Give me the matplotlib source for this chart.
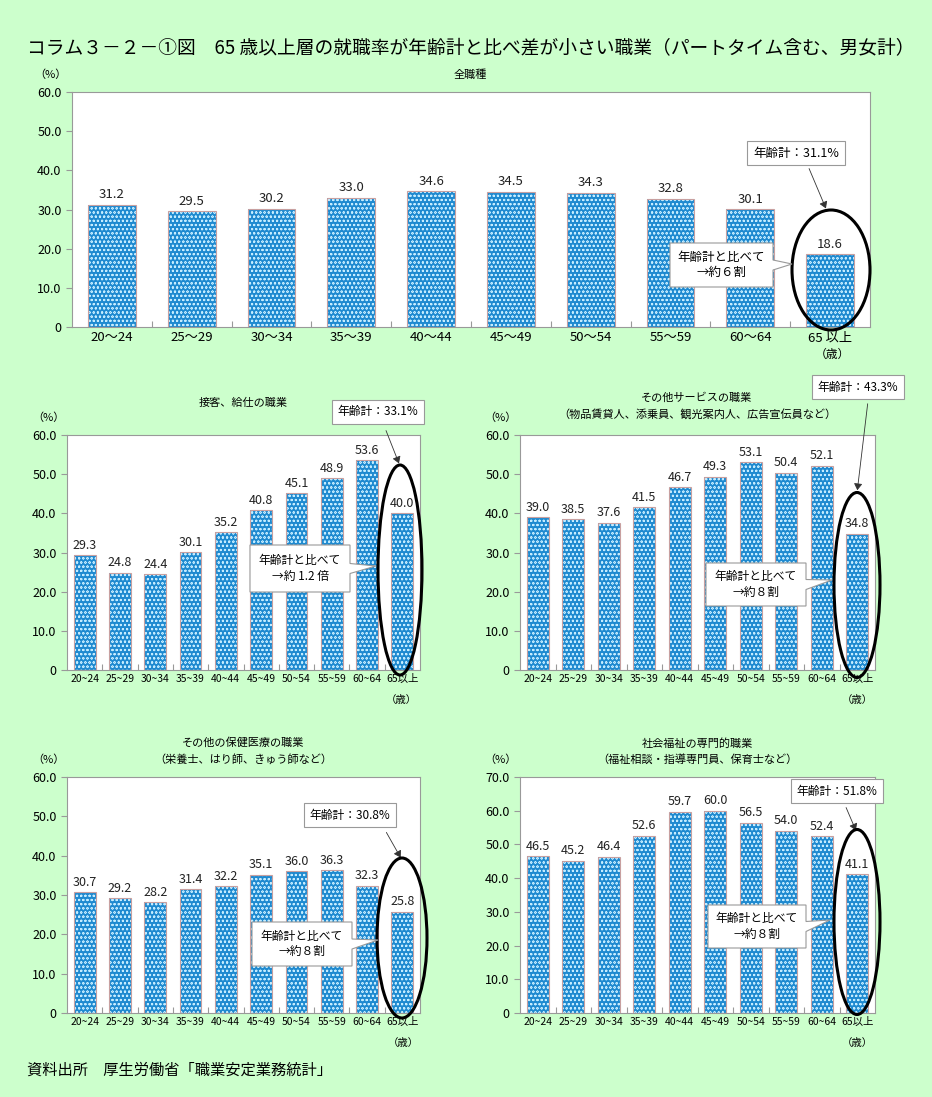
import matplotlib
matplotlib.use("Agg")
import matplotlib.pyplot as plt
from matplotlib.patches import Ellipse, Polygon
import numpy as np

plt.rcParams["font.family"] = ["Noto Sans CJK JP", "DejaVu Sans"]
plt.rcParams["hatch.linewidth"] = 0.45

W, H = 932, 1097

# data
ages_top = ["20～24", "25～29", "30～34", "35～39", "40～44", "45～49",
            "50～54", "55～59", "60～64", "65 以上"]
ages_small = ["20~24", "25~29", "30~34", "35~39", "40~44", "45~49",
              "50~54", "55~59", "60~64", "65以上"]
all_jobs = [31.2, 29.5, 30.2, 33.0, 34.6, 34.5, 34.3, 32.8, 30.1, 18.6]
service = [29.3, 24.8, 24.4, 30.1, 35.2, 40.8, 45.1, 48.9, 53.6, 40.0]
other_service = [39.0, 38.5, 37.6, 41.5, 46.7, 49.3, 53.1, 50.4, 52.1, 34.8]
health = [30.7, 29.2, 28.2, 31.4, 32.2, 35.1, 36.0, 36.3, 32.3, 25.8]
welfare = [46.5, 45.2, 46.4, 52.6, 59.7, 60.0, 56.5, 54.0, 52.4, 41.1]
totals = ["31.1", "33.1", "43.3", "30.8", "51.8"]
ratios = ["約６割", "約 1.2 倍", "約８割", "約８割", "約８割"]

BG = "#ccffcc"
BAR = "#1f8ad0"
EDGE = "#999999"


def fxy(x, y):
    return x / W, 1 - y / H


def make_axes(fig, left, top, right, bottom):
    return fig.add_axes([left / W, 1 - bottom / H, (right - left) / W, (bottom - top) / H])


def draw_bars(ax, values, labels, ymax, val_size, tick_size, ytick_size, width):
    x = np.arange(len(values))
    ax.bar(x, values, width=width, color=BAR, edgecolor="#c4ecff", hatch="oooo",
           linewidth=0, zorder=2)
    ax.bar(x, values, width=width, fill=False, edgecolor="#c8a0a0", linewidth=0.8, zorder=3)
    for xi, v in zip(x, values):
        ax.text(xi, v + ymax * 0.015, f"{v:.1f}", ha="center", va="bottom",
                fontsize=val_size, color="#222222", zorder=4)
    ax.set_xlim(-0.5, len(values) - 0.5)
    ax.set_ylim(0, ymax)
    yt = np.arange(0, ymax + 0.1, 10)
    ax.set_yticks(yt)
    ax.set_yticklabels(["0"] + [f"{t:.1f}" for t in yt[1:]])
    ax.set_xticks(np.arange(0.5, len(values) - 1, 1))
    ax.set_xticklabels([])
    ax.set_xticks(x, minor=True)
    ax.set_xticklabels(labels, minor=True)
    ax.tick_params(axis="x", which="major", direction="in", length=4, color=EDGE)
    ax.tick_params(axis="x", which="minor", length=0, labelsize=tick_size, pad=3)
    ax.tick_params(axis="y", direction="out", length=4, color=EDGE, labelsize=ytick_size)
    for s in ax.spines.values():
        s.set_color(EDGE)
        s.set_linewidth(0.8)
    ax.set_facecolor("white")


def total_box(fig, cx, cy, text, ax_to, size=8.5):
    # label box with arrow to top of the ellipse
    fig.text(*fxy(cx, cy), text, ha="center", va="center", fontsize=size,
             bbox=dict(boxstyle="square,pad=0.45", fc="white", ec=EDGE, lw=0.8))
    fig.add_artist(matplotlib.patches.FancyArrowPatch(
        fxy(*ax_to[0]), fxy(*ax_to[1]), transform=fig.transFigure,
        arrowstyle="-|>,head_length=4,head_width=2.5", color="#333333", lw=0.6))


def ring(fig, cx, cy, w, h):
    fig.add_artist(Ellipse(fxy(cx, cy), w / W, h / H, transform=fig.transFigure,
                           fill=False, ec="black", lw=2.2, zorder=10))


def callout(fig, x0, y0, x1, y1, tip, text, size=8.5):
    ym = (y0 + y1) / 2
    pts = [(x0, y0), (x1, y0), (x1, ym - 5), tip, (x1, ym + 5), (x1, y1), (x0, y1)]
    fig.add_artist(Polygon([fxy(*p) for p in pts], closed=True, transform=fig.transFigure,
                           fc="white", ec=EDGE, lw=0.8, zorder=11))
    fig.text(*fxy((x0 + x1) / 2, ym), text, ha="center", va="center", fontsize=size,
             linespacing=1.25, zorder=12)


fig = plt.figure(figsize=(W / 100, H / 100), dpi=100)
fig.patch.set_facecolor(BG)

fig.text(*fxy(27, 48), "コラム３－２－①図　65 歳以上層の就職率が年齢計と比べ差が小さい職業（パートタイム含む、男女計）",
         ha="left", va="center", fontsize=13.5)

# top panel
ax = make_axes(fig, 72, 92, 870, 327)
draw_bars(ax, all_jobs, ages_top, 60, 9.5, 9.5, 9, 0.6)
fig.text(*fxy(470, 75), "全職種", ha="center", va="center", fontsize=8)
fig.text(*fxy(50, 75), "（%）", ha="center", va="center", fontsize=8)
fig.text(*fxy(832, 354), "（歳）", ha="center", va="center", fontsize=8.5)
total_box(fig, 796, 153, f"年齢計：{totals[0]}%", ((808, 166), (827, 211)), size=9)
ring(fig, 831, 270, 78, 120)
callout(fig, 670, 243, 773, 287, (792, 264), f"年齢計と比べて\n→{ratios[0]}", size=9)

# middle left
ax = make_axes(fig, 67, 435, 420, 670)
draw_bars(ax, service, ages_small, 60, 9, 7.5, 9, 0.62)
fig.text(*fxy(243, 403), "接客、給仕の職業", ha="center", va="center", fontsize=8)
fig.text(*fxy(48, 418), "（%）", ha="center", va="center", fontsize=8)
fig.text(*fxy(401, 700), "（歳）", ha="center", va="center", fontsize=7.5)
total_box(fig, 378, 412, f"年齢計：{totals[1]}%", ((385, 428), (400, 466)))
ring(fig, 400, 570, 44, 210)
callout(fig, 250, 545, 350, 592, (376, 566), f"年齢計と比べて\n→{ratios[1]}")

# middle right
ax = make_axes(fig, 520, 435, 875, 670)
draw_bars(ax, other_service, ages_small, 60, 9, 7.5, 9, 0.62)
fig.text(*fxy(697, 398), "その他サービスの職業", ha="center", va="center", fontsize=8)
fig.text(*fxy(697, 414), "（物品賃貸人、添乗員、観光案内人、広告宣伝員など）",
         ha="center", va="center", fontsize=8)
fig.text(*fxy(500, 418), "（%）", ha="center", va="center", fontsize=8)
fig.text(*fxy(857, 700), "（歳）", ha="center", va="center", fontsize=7.5)
total_box(fig, 858, 387, f"年齢計：{totals[2]}%", ((868, 401), (857, 493)))
ring(fig, 857, 585, 46, 185)
callout(fig, 706, 563, 806, 606, (832, 580), f"年齢計と比べて\n→{ratios[2]}")

# bottom left
ax = make_axes(fig, 67, 777, 420, 1013)
draw_bars(ax, health, ages_small, 60, 9, 7.5, 9, 0.62)
fig.text(*fxy(243, 743), "その他の保健医療の職業", ha="center", va="center", fontsize=8)
fig.text(*fxy(243, 759), "（栄養士、はり師、きゅう師など）", ha="center", va="center", fontsize=8)
fig.text(*fxy(48, 760), "（%）", ha="center", va="center", fontsize=8)
fig.text(*fxy(403, 1043), "（歳）", ha="center", va="center", fontsize=7.5)
total_box(fig, 350, 815, f"年齢計：{totals[3]}%", ((385, 830), (402, 860)))
ring(fig, 402, 938, 50, 160)
callout(fig, 252, 922, 352, 966, (378, 940), f"年齢計と比べて\n→{ratios[3]}")

# bottom right
ax = make_axes(fig, 520, 777, 875, 1013)
draw_bars(ax, welfare, ages_small, 70, 9, 7.5, 9, 0.62)
fig.text(*fxy(697, 743), "社会福祉の専門的職業", ha="center", va="center", fontsize=8)
fig.text(*fxy(697, 759), "（福祉相談・指導専門員、保育士など）", ha="center", va="center", fontsize=8)
fig.text(*fxy(500, 760), "（%）", ha="center", va="center", fontsize=8)
fig.text(*fxy(857, 1043), "（歳）", ha="center", va="center", fontsize=7.5)
total_box(fig, 837, 791, f"年齢計：{totals[4]}%", ((845, 805), (857, 833)))
ring(fig, 857, 922, 46, 185)
callout(fig, 708, 905, 806, 948, (830, 920), f"年齢計と比べて\n→{ratios[4]}")

fig.text(*fxy(27, 1070), "資料出所　厚生労働省「職業安定業務統計」", ha="left", va="center", fontsize=11)

fig.savefig("out.png", dpi=100, facecolor=BG)
